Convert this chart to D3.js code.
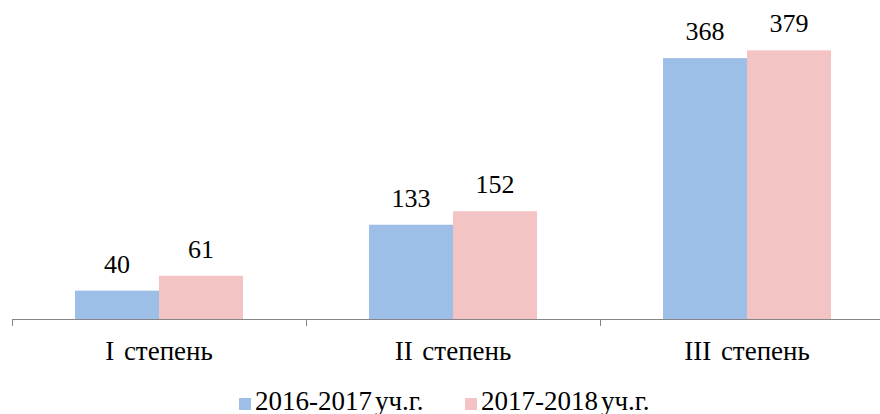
<!DOCTYPE html>
<html>
<head>
<meta charset="utf-8">
<script src="https://cdn.jsdelivr.net/npm/d3@7"></script>
</head>
<body style="margin:0">
<script>
const categories = ['I степень', 'II степень', 'III степень'];
const seriesNames = ['2016-2017уч.г.', '2017-2018уч.г.'];
const values2016 = [40, 133, 368];
const values2018 = [61, 152, 379];
const colors = ['#9DBEE6', '#F4C3C3'];

const width = 880;
const height = 414;
const baseY = 319;
const fontName = '"Liberation Serif"';

const svg = d3.select('body').append('svg')
  .attr('width', width)
  .attr('height', height)
  .style('font-family', fontName);

const x0 = d3.scaleBand()
  .domain(categories)
  .range([12, 894]);

const x1 = d3.scaleBand()
  .domain(seriesNames)
  .range([0, x0.bandwidth()])
  .paddingOuter(0.75);

const y = d3.scaleLinear()
  .domain([0, 450])
  .range([baseY, 0]);

const rows = categories.map((c, i) => ({
  category: c,
  items: [
    { series: seriesNames[0], value: values2016[i], color: colors[0] },
    { series: seriesNames[1], value: values2018[i], color: colors[1] }
  ]
}));

const groups = svg.selectAll('.group')
  .data(rows).enter()
  .append('g')
  .attr('transform', d => `translate(${x0(d.category)},0)`);

groups.selectAll('rect')
  .data(d => d.items).enter()
  .append('rect')
  .attr('x', d => x1(d.series))
  .attr('y', d => y(d.value))
  .attr('width', x1.bandwidth())
  .attr('height', d => baseY - y(d.value))
  .attr('fill', d => d.color);

// value labels
groups.selectAll('.val')
  .data(d => d.items).enter()
  .append('text')
  .attr('x', d => x1(d.series) + x1.bandwidth() / 2)
  .attr('y', d => y(d.value) - 18)
  .attr('text-anchor', 'middle')
  .attr('font-size', 26)
  .style('font-family', fontName)
  .text(d => d.value);

// x axis
const axis = svg.append('g')
  .attr('transform', `translate(0,${baseY})`)
  .call(d3.axisBottom(x0).tickSize(0).tickFormat(''));
axis.select('.domain').attr('stroke', '#868686').attr('d', `M12.5,7V0.5H894`);

axis.selectAll('.edge')
  .data(d3.range(categories.length + 1)).enter()
  .append('line')
  .attr('x1', i => 12.5 + i * x0.step())
  .attr('x2', i => 12.5 + i * x0.step())
  .attr('y1', 0)
  .attr('y2', 7)
  .attr('stroke', '#868686');

svg.selectAll('.cat')
  .data(categories).enter()
  .append('text')
  .attr('x', d => x0(d) + x0.bandwidth() / 2)
  .attr('y', 360)
  .attr('text-anchor', 'middle')
  .attr('font-size', 27)
  .style('font-family', fontName)
  .style('word-spacing', '3px')
  .text(d => d);

// legend
const legendX = [239, 465];
const legend = svg.selectAll('.legend')
  .data(seriesNames).enter()
  .append('g')
  .attr('transform', (d, i) => `translate(${legendX[i]},0)`);

legend.append('rect')
  .attr('x', 0)
  .attr('y', 398)
  .attr('width', 12)
  .attr('height', 12)
  .attr('fill', (d, i) => colors[i]);

const legendText = legend.append('text')
  .attr('x', 16)
  .attr('y', 410)
  .attr('font-size', 27)
  .style('font-family', fontName);
legendText.append('tspan').text(d => d.slice(0, 9));
legendText.append('tspan').attr('dx', 3).text(d => d.slice(9));
</script>
</body>
</html>
